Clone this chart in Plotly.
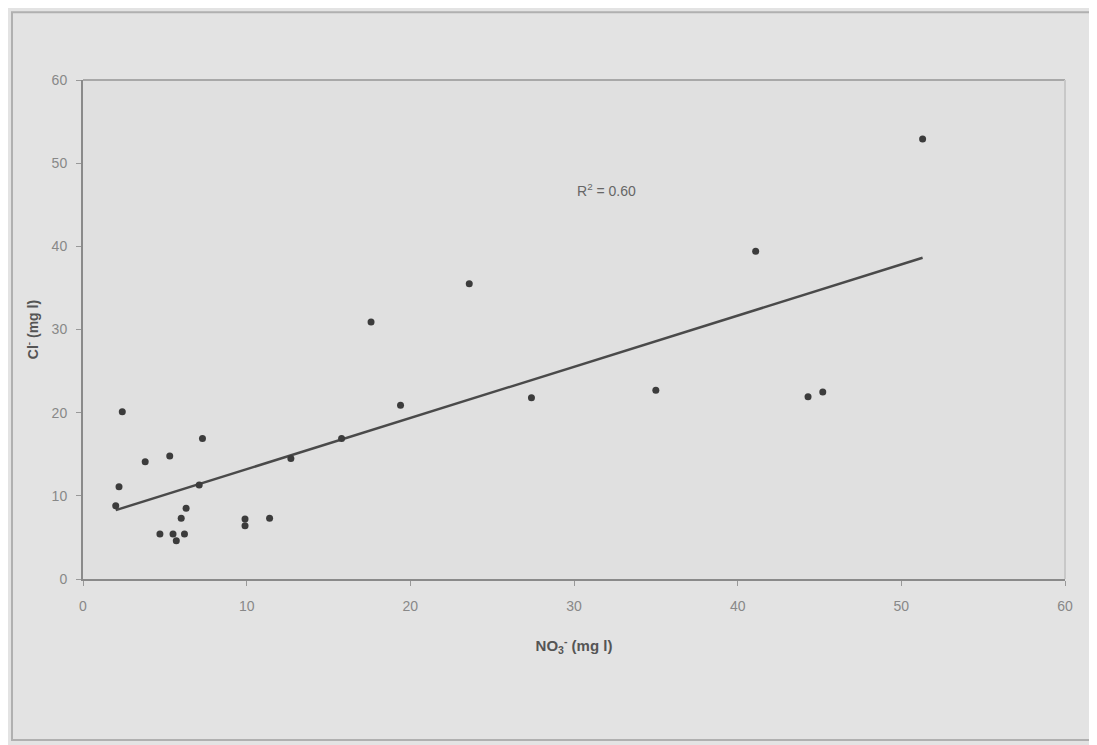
import numpy as np
import plotly.graph_objects as go

# Data
no3 = [2.0, 2.2, 2.4, 3.8, 5.3, 7.3, 7.1, 4.7, 5.5, 5.7, 6.2, 6.0, 6.3,
       9.9, 9.9, 11.4, 12.7, 15.8, 17.6, 19.4, 23.6, 27.4, 35.0, 41.1,
       44.3, 45.2, 51.3]
y_vals = [8.8, 11.1, 20.1, 14.1, 14.8, 16.9, 11.3, 5.4, 5.4, 4.6, 5.4, 7.3, 8.5,
          7.2, 6.4, 7.3, 14.5, 16.9, 30.9, 20.9, 35.5, 21.8, 22.7, 39.4,
          21.9, 22.5, 52.9]
x_ticks = [0, 10, 20, 30, 40, 50, 60]
y_ticks = [0, 10, 20, 30, 40, 50, 60]
r2_label = "R<sup>2</sup> = 0.60"

# Linear trendline fitted from the data
slope, intercept = np.polyfit(no3, y_vals, 1)
tx = [min(no3), max(no3)]
ty = [slope * v + intercept for v in tx]

fig = go.Figure()
fig.add_trace(go.Scatter(
    x=tx, y=ty, mode="lines",
    line=dict(color="#4a4a4a", width=2.5),
    showlegend=False, hoverinfo="skip"))
fig.add_trace(go.Scatter(
    x=no3, y=y_vals, mode="markers",
    marker=dict(color="#3c3c3c", size=7, line=dict(width=0)),
    showlegend=False))

fig.add_annotation(x=32.0, y=46.8, xref="x", yref="y", text=r2_label,
                   showarrow=False, font=dict(family="Liberation Sans, Arial", size=14, color="#666666"))

fig.update_layout(
    width=1097, height=745,
    margin=dict(l=75, r=40, t=72, b=174),
    paper_bgcolor="#e3e3e3",
    plot_bgcolor="#e0e0e0",
    font=dict(family="Liberation Sans, Arial", color="#777777", size=14),
    xaxis=dict(range=[0, 60], tickvals=x_ticks, showgrid=False, zeroline=False,
               showline=True, linecolor="#8a8a8a", linewidth=2, mirror=False,
               ticks="outside", ticklen=5, tickcolor="#999999",
               ticklabelstandoff=8,
               tickfont=dict(size=14, color="#888888"),
               title=dict(text="<b>NO<sub>3</sub><sup>-</sup> (mg l)</b>",
                          font=dict(size=15, color="#555555"), standoff=28)),
    yaxis=dict(range=[0, 60], tickvals=y_ticks, showgrid=False, zeroline=False,
               showline=True, linecolor="#8a8a8a", linewidth=2, mirror=False,
               ticks="outside", ticklen=5, tickcolor="#999999",
               ticklabelstandoff=6,
               tickfont=dict(size=14, color="#888888"),
               title=dict(text="<b>Cl<sup>-</sup> (mg l)</b>",
                          font=dict(size=14, color="#555555"), standoff=10)),
    shapes=[
        # plot area top and right border
        dict(type="line", xref="paper", yref="paper", x0=0, x1=1, y0=1, y1=1,
             line=dict(color="#a8a8a8", width=2)),
        dict(type="line", xref="paper", yref="paper", x0=1, x1=1, y0=0, y1=1,
             line=dict(color="#c8c8c8", width=2)),
        # outer chart border
        dict(type="rect", xref="paper", yref="paper",
             x0=-0.0723, x1=1.0255, y0=-0.3227, y1=1.136,
             line=dict(color="#b0b0b0", width=2), fillcolor="rgba(0,0,0,0)", layer="below"),
    ],
)

fig.write_html("out.html")
